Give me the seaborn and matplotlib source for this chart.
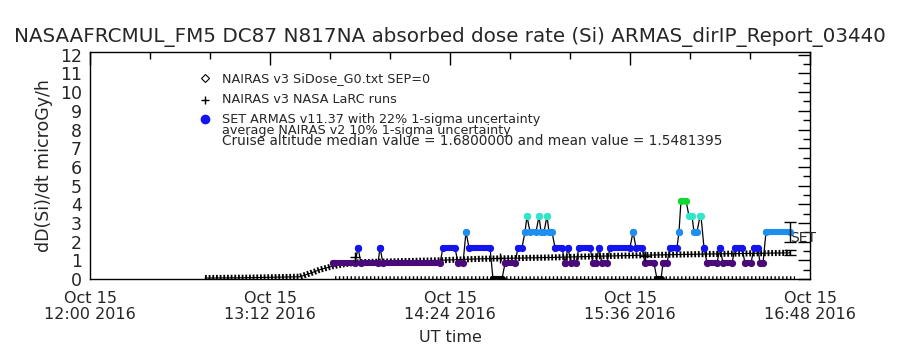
import numpy as np
import pandas as pd
import matplotlib
matplotlib.use("Agg")
import matplotlib.pyplot as plt
from matplotlib.ticker import FixedLocator, MultipleLocator
import seaborn as sns

# ---------------- data ----------------
title = "NASAAFRCMUL_FM5 DC87 N817NA absorbed dose rate (Si) ARMAS_dirIP_Report_03440"
ylabel = "dD(Si)/dt microGy/h"
xlabel = "UT time"

# all times in minutes after 12:00 UT, Oct 15 2016
# NAIRAS v3 SiDose (read breakpoints)
nairas_min = [46, 64, 84, 88, 92, 97, 102, 108, 124, 140, 156, 164, 184, 204, 224, 244, 264, 280]
nairas_val = [0.05, 0.07, 0.12, 0.30, 0.50, 0.68, 0.80, 0.90, 0.95, 1.00, 1.08, 1.10,
              1.15, 1.22, 1.28, 1.33, 1.37, 1.40]

# NAIRAS v3 NASA LaRC runs
larc_min = [106, 164, 222]
larc_val = [1.20, 1.12, 1.22]
larc_zero_span = [98, 282]

# SET ARMAS segments: start, end (minutes), level
armas_start = [97.2, 107.2, 108.4, 116.0, 117.2, 141.2, 147.2, 150.4, 151.6, 161.2,
               166.0, 171.2, 174.0, 174.8, 176.0, 179.6, 180.4, 182.8, 183.6, 186.0,
               190.0, 191.2, 192.4, 195.6, 201.2, 203.6, 204.8, 208.0, 217.2, 218.4,
               222.0, 226.8, 229.2, 232.0, 235.6, 236.4, 239.6, 241.6, 244.0, 245.6,
               246.8, 252.0, 253.2, 258.0, 262.0, 265.6, 268.0, 270.4]
armas_end = [106.0, 107.2, 115.2, 116.0, 140.0, 146.0, 149.2, 150.4, 160.0, 164.8,
             170.0, 172.8, 174.0, 174.8, 178.4, 179.6, 181.6, 182.8, 184.8, 188.8,
             190.0, 191.2, 194.4, 200.0, 202.4, 203.6, 206.8, 216.0, 217.2, 220.8,
             225.6, 228.4, 230.8, 234.8, 235.6, 238.4, 240.8, 242.8, 244.4, 245.6,
             250.8, 252.0, 256.8, 260.8, 264.4, 267.2, 269.2, 280.0]
armas_level = [0.84, 1.68, 0.84, 1.68, 0.84, 1.68, 0.84, 2.52, 1.68, 0.00,
               0.84, 1.68, 2.52, 3.36, 2.52, 3.36, 2.52, 3.36, 2.52, 1.68,
               0.84, 1.68, 0.84, 1.68, 0.84, 1.68, 0.84, 1.68, 2.52, 1.68,
               0.84, 0.00, 0.84, 1.68, 2.52, 4.20, 3.36, 2.52, 3.36, 1.68,
               0.84, 1.68, 0.84, 1.68, 0.84, 1.68, 0.84, 2.52]

level_colors = {0.00: "#000000", 0.84: "#4a0a7a", 1.68: "#1414f0",
                2.52: "#1e8ff0", 3.36: "#30e6c8", 4.20: "#10d830"}

legend_labels = ["NAIRAS v3 SiDose_G0.txt SEP=0",
                 "NAIRAS v3 NASA LaRC runs",
                 "SET ARMAS v11.37 with 22% 1-sigma uncertainty"]
note1 = "average NAIRAS v2 10% 1-sigma uncertainty"
note2 = "Cruise altitude median value = 1.6800000 and mean value = 1.5481395"

tick_min = [0, 72, 144, 216, 288]
tick_labels = ["Oct 15\n12:00 2016", "Oct 15\n13:12 2016", "Oct 15\n14:24 2016",
               "Oct 15\n15:36 2016", "Oct 15\n16:48 2016"]
y_ticks = list(range(0, 13))

# -------------- drawing --------------
sns.set_style("white")
plt.rcParams['font.family'] = ['DejaVu Sans']

fig = plt.figure(figsize=(9, 3.5), dpi=100)
ax = fig.add_axes([0.1, 0.2029, 0.8, 0.6486])

rows = []
for i, (s, e, v) in enumerate(zip(armas_start, armas_end, armas_level)):
    rows.append({"t": s, "v": v, "seg": i})
    rows.append({"t": e, "v": v, "seg": i})
armas = pd.DataFrame(rows)

# black connecting line of ARMAS
sns.lineplot(data=armas, x="t", y="v", sort=False, estimator=None, color="black",
             lw=0.9, ax=ax, zorder=2)

# NAIRAS dense diamond line (hatched look)
nai = pd.DataFrame({"t": nairas_min, "v": nairas_val})
sns.lineplot(data=nai, x="t", y="v", color="black", lw=4.4, ax=ax, zorder=3,
             estimator=None)
ax.lines[-1].set_dashes((0.3, 0.3))
sns.lineplot(data=nai, x="t", y="v", color="black", lw=0.8, ax=ax, zorder=3,
             estimator=None)

# LaRC markers at zero along the bottom
lz = pd.DataFrame({"t": larc_zero_span, "v": [0.0, 0.0]})
sns.lineplot(data=lz, x="t", y="v", color="black", lw=4, ax=ax, zorder=3, estimator=None)
ax.lines[-1].set_dashes((0.25, 0.45))

# ARMAS coloured points (dense, forming bars)
for lvl, grp in armas.groupby("v"):
    sns.lineplot(data=grp, x="t", y="v", units="seg", estimator=None, sort=False,
                 color=level_colors[lvl], lw=4.4, ax=ax, zorder=4,
                 solid_capstyle="round", marker="o", markersize=5.2,
                 markeredgewidth=0)

# LaRC plus markers
lr = pd.DataFrame({"t": larc_min, "v": larc_val})
sns.scatterplot(data=lr, x="t", y="v", marker="+", color="black", s=50,
                linewidth=1, ax=ax, zorder=5)

# end error bars
t_end = armas_end[-1]
v_set = armas_level[-1]
ax.errorbar([t_end], [v_set], yerr=[v_set * 0.22], fmt="none", ecolor="black",
            elinewidth=1, capsize=4, zorder=6)
ax.errorbar([t_end], [nairas_val[-1]], yerr=[nairas_val[-1] * 0.10], fmt="none",
            ecolor="black", elinewidth=1, capsize=4, zorder=6)
ax.text(t_end, v_set - 0.35, "SET", fontsize=10, va="center", ha="left")

# axes
ax.set_xlim(tick_min[0], tick_min[-1])
ax.set_ylim(0, 12.15)
ax.xaxis.set_major_locator(FixedLocator(tick_min))
ax.set_xticklabels(tick_labels, fontsize=11.5, linespacing=1.05)
ax.yaxis.set_major_locator(FixedLocator(y_ticks))
ax.set_yticklabels([str(v) for v in y_ticks], fontsize=12.5)
ax.yaxis.set_minor_locator(MultipleLocator(0.5))
ax.xaxis.set_minor_locator(MultipleLocator(24))
ax.tick_params(axis="both", which="major", direction="in", length=9, width=1,
               top=True, right=True, color="black")
ax.tick_params(axis="x", which="major", pad=9)
ax.tick_params(axis="y", which="major", pad=6)
ax.tick_params(axis="both", which="minor", direction="in", length=5, width=1,
               top=True, right=True, color="black")
for sp in ax.spines.values():
    sp.set_color("black")
    sp.set_linewidth(1)
ax.set_xlabel(xlabel, fontsize=11.5, labelpad=6)
ax.set_ylabel(ylabel, fontsize=12.5, labelpad=5)
fig.suptitle(title, fontsize=14.3, y=0.922)

# legend (manual, in data coordinates)
lx = 46
tx = 52.8
ax.plot([lx], [10.75], marker="D", ms=4, mfc="white", mec="black", mew=0.8, ls="none")
ax.plot([lx], [9.6], marker="+", ms=6, color="black", mew=1, ls="none")
ax.plot([lx], [8.55], marker="o", ms=6, color=level_colors[1.68], ls="none")
ax.text(tx, 10.75, legend_labels[0], fontsize=9.2, va="center")
ax.text(tx, 9.6, legend_labels[1], fontsize=9.2, va="center")
ax.text(tx, 8.55, legend_labels[2], fontsize=9.2, va="center")
ax.text(tx, 7.95, note1, fontsize=9.2, va="center")
ax.text(tx, 7.4, note2, fontsize=9.8, va="center")

if ax.get_legend():
    ax.get_legend().remove()

fig.savefig("out.png", dpi=100)
